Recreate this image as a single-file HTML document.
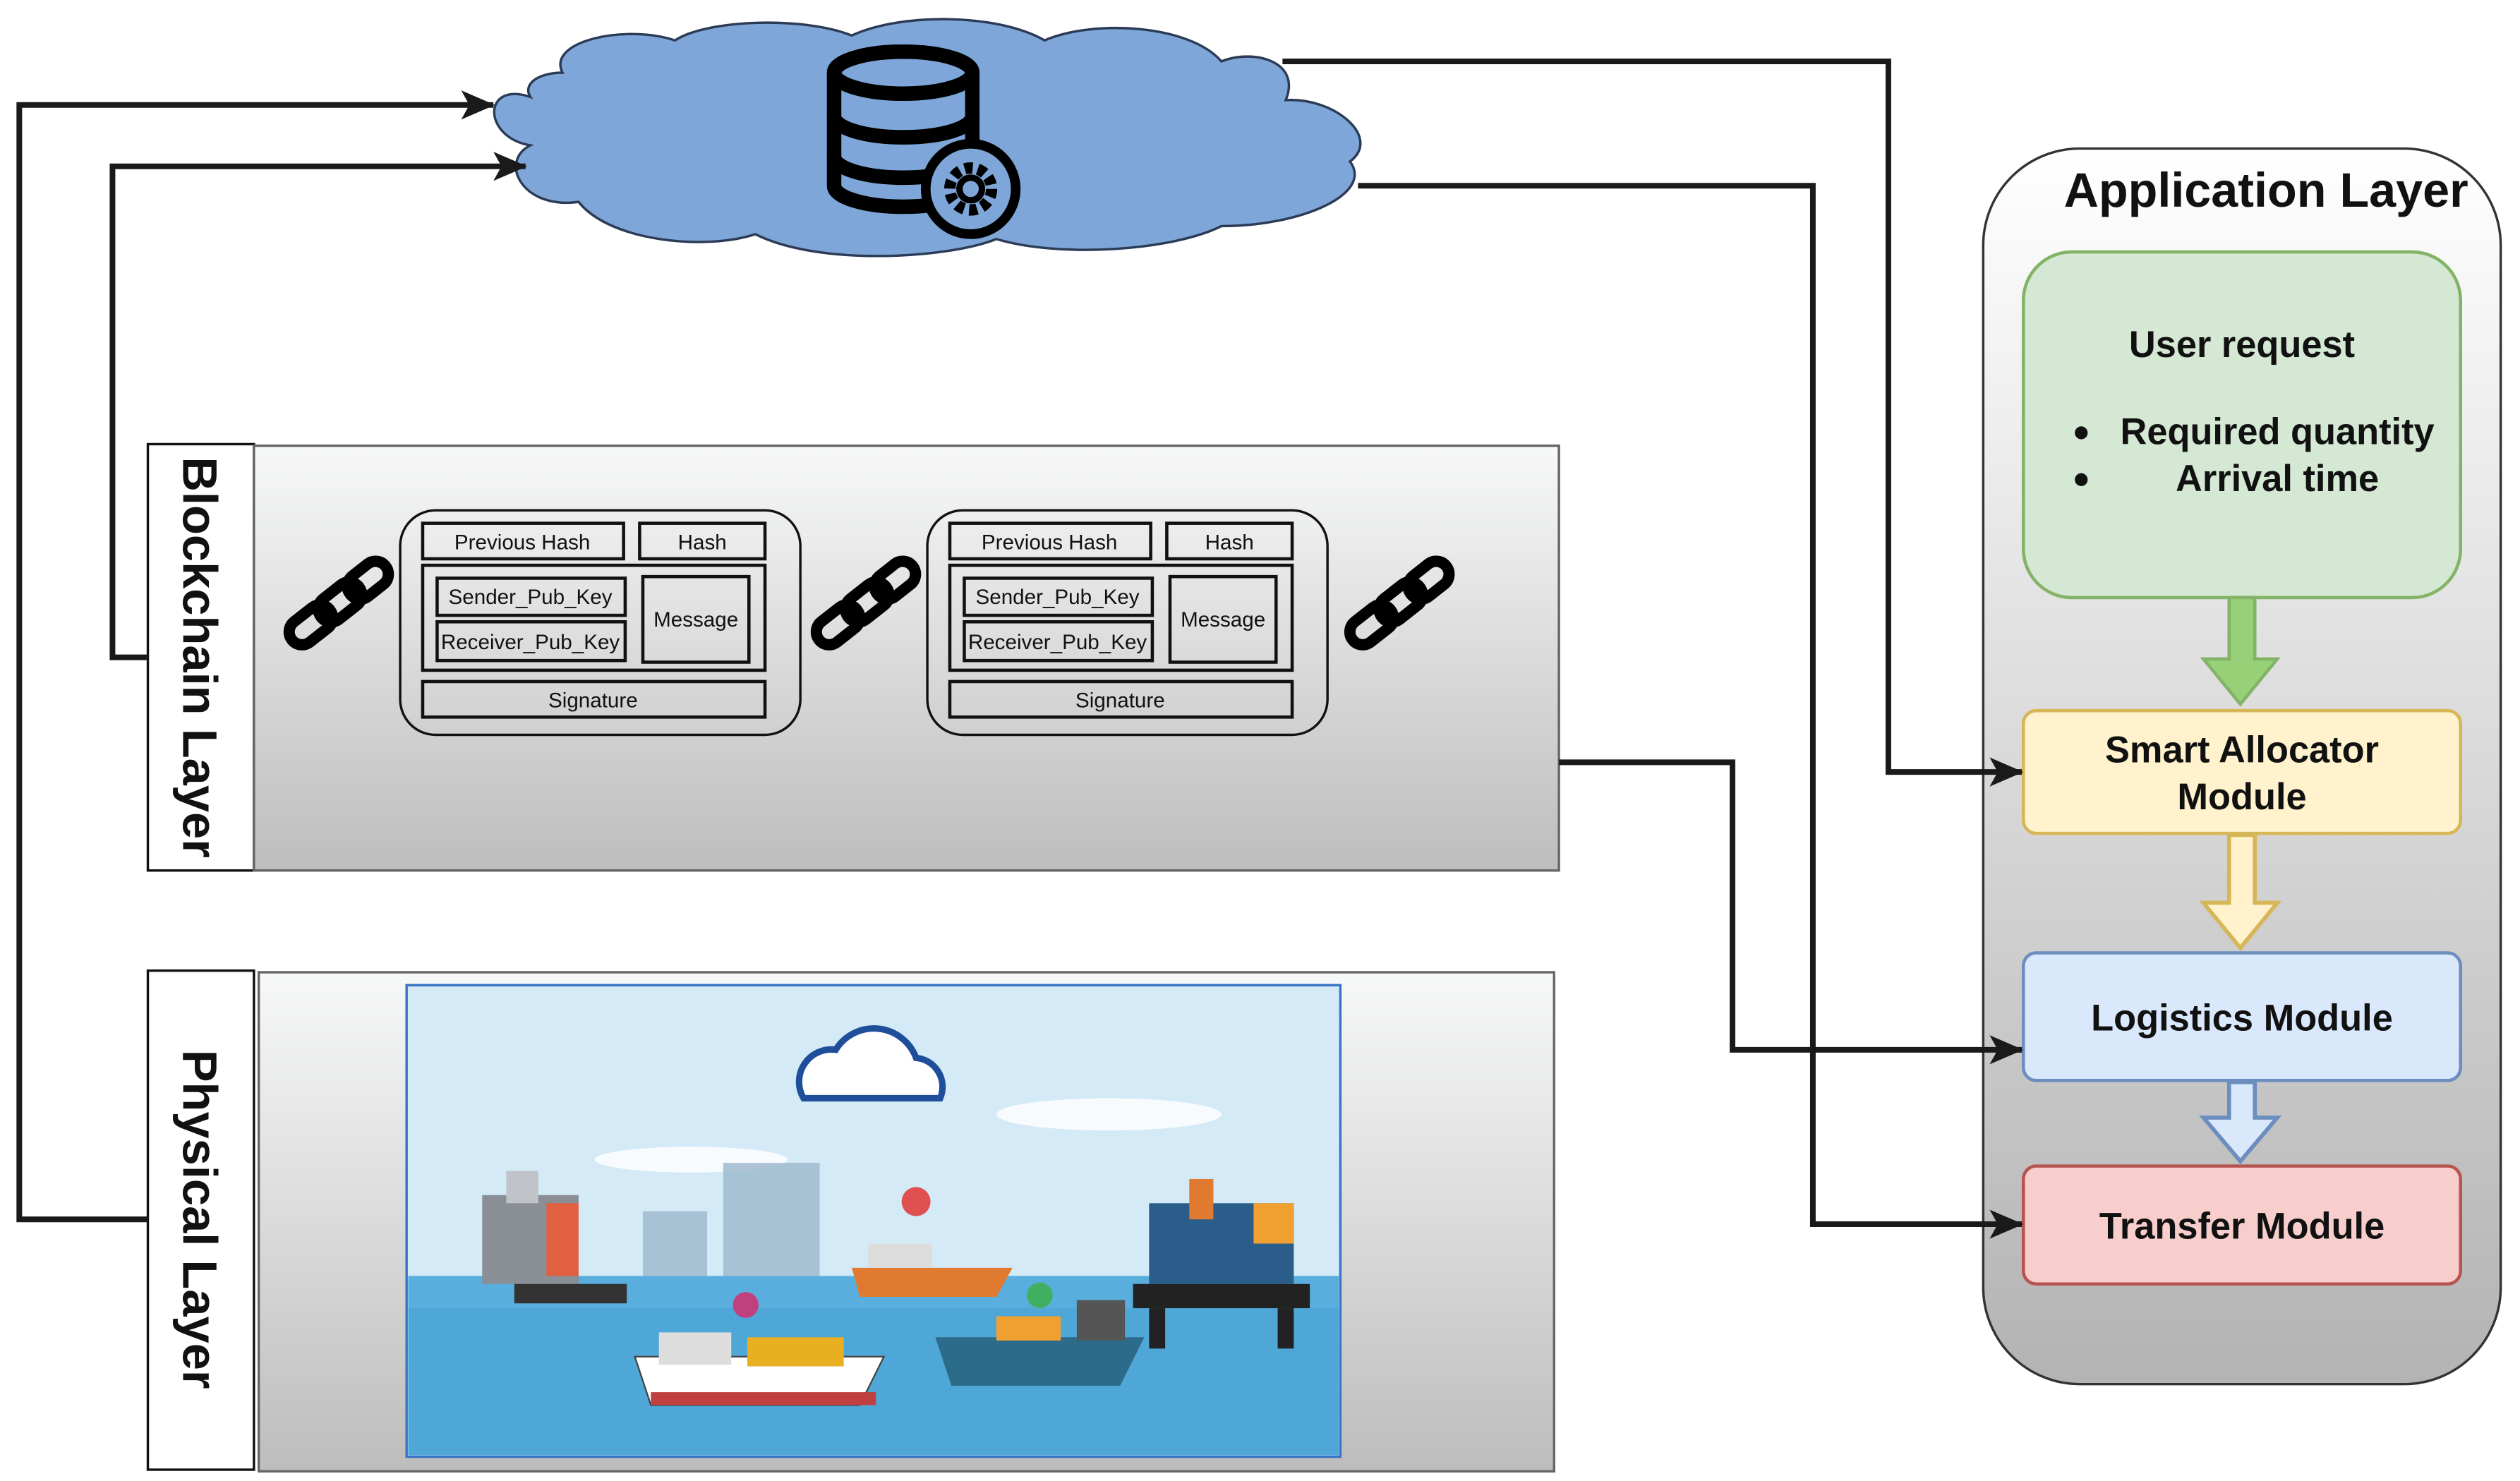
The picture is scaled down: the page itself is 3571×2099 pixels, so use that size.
<!DOCTYPE html>
<html><head><meta charset="utf-8"><style>html,body{margin:0;padding:0;background:#fff}svg{display:block}</style></head>
<body>
<svg width="3571" height="2099" viewBox="0 0 1568 917" preserveAspectRatio="none" xmlns="http://www.w3.org/2000/svg" font-family="Liberation Sans, sans-serif">
<defs>
<linearGradient id="g1" x1="0" y1="0" x2="0" y2="1"><stop offset="0" stop-color="#f7f8f8"/><stop offset="1" stop-color="#bdbdbd"/></linearGradient>
<linearGradient id="g2" x1="0" y1="0" x2="0" y2="1"><stop offset="0" stop-color="#ffffff"/><stop offset="1" stop-color="#b3b3b3"/></linearGradient>
<marker id="ah" markerWidth="22" markerHeight="20" refX="20" refY="10" orient="auto" markerUnits="userSpaceOnUse"><path d="M0,1 L21,10 L0,19 L5,10z" fill="#1a1a1a"/></marker>
<g id="chain"><g transform="rotate(-38)" fill="none" stroke="#000" stroke-width="7"><rect x="-36" y="-8" width="30" height="16" rx="8"/><rect x="-13" y="-8" width="30" height="16" rx="8"/><rect x="10" y="-8" width="28" height="16" rx="8"/></g></g>
<g id="block" font-size="13" text-anchor="middle" fill="none" stroke="#111">
<rect x="0" y="0" width="249" height="139" rx="22" stroke-width="1.5"/>
<rect x="14" y="8" width="125" height="22" stroke-width="2"/><rect x="149" y="8" width="78" height="22" stroke-width="2"/>
<rect x="14" y="34" width="213" height="65" stroke-width="2"/>
<rect x="23" y="42" width="117" height="23" stroke-width="2"/><rect x="23" y="69" width="117" height="24" stroke-width="2"/>
<rect x="151" y="41" width="66" height="53" stroke-width="2"/>
<rect x="14" y="106" width="213" height="22" stroke-width="2"/>
<g fill="#111" stroke="none"><text x="76" y="24">Previous Hash</text><text x="188" y="24">Hash</text><text x="81" y="58">Sender_Pub_Key</text><text x="81" y="86">Receiver_Pub_Key</text><text x="184" y="72">Message</text><text x="120" y="122">Signature</text></g>
</g>
</defs>

<!-- cloud -->
<g fill="#7ea6d8" stroke="#2b3a55" stroke-width="1.5">
<path d="M330,60 C300,50 300,85 330,90 C310,100 325,130 360,125 C380,150 440,155 470,145 C510,165 590,160 620,148 C660,160 730,155 760,140 C810,140 855,120 840,100 C860,85 830,60 800,62 C810,38 780,30 760,38 C740,15 680,12 650,25 C620,8 560,8 530,22 C500,10 440,12 420,25 C390,15 340,25 350,45 C335,45 325,52 330,60z"/>
</g>
<g fill="none" stroke="#000" stroke-width="9">
<path d="M519,45 v70 a43,13 0 0 0 86,0 v-70"/>
<ellipse cx="562" cy="45" rx="43" ry="13"/>
<path d="M519,72 a43,13 0 0 0 86,0 M519,97 a43,13 0 0 0 86,0"/>
</g>
<circle cx="604" cy="117" r="28" fill="#7ea6d8" stroke="#000" stroke-width="6"/>
<circle cx="604" cy="117" r="13" fill="none" stroke="#000" stroke-width="7" stroke-dasharray="5 3.2"/>
<circle cx="604" cy="117" r="7" fill="none" stroke="#000" stroke-width="4"/>

<!-- Blockchain layer -->
<rect x="92" y="275" width="66" height="264" fill="#fff" stroke="#111" stroke-width="1.5"/>
<rect x="158" y="276" width="812" height="263" fill="url(#g1)" stroke="#666" stroke-width="1.5"/>
<text transform="translate(114,407) rotate(90)" text-anchor="middle" font-size="30" font-weight="bold" fill="#111">Blockchain Layer</text>
<use href="#block" x="249" y="316"/>
<use href="#block" x="577" y="316"/>
<use href="#chain" x="210" y="374"/>
<use href="#chain" x="538" y="374"/>
<use href="#chain" x="870" y="374"/>

<!-- Physical layer -->
<rect x="92" y="601" width="66" height="309" fill="#fff" stroke="#111" stroke-width="1.5"/>
<rect x="161" y="602" width="806" height="309" fill="url(#g1)" stroke="#666" stroke-width="1.5"/>
<text transform="translate(114,755) rotate(90)" text-anchor="middle" font-size="30" font-weight="bold" fill="#111">Physical Layer</text>
<rect x="253" y="610" width="581" height="292" fill="#d4eaf7" stroke="#3a73c4" stroke-width="1.5"/>
<rect x="254" y="790" width="579" height="111" fill="#59aedd"/>
<rect x="254" y="810" width="579" height="91" fill="#4aa2d6" opacity="0.6"/>
<ellipse cx="430" cy="718" rx="60" ry="8" fill="#fff" opacity="0.8"/>
<ellipse cx="690" cy="690" rx="70" ry="10" fill="#fff" opacity="0.8"/>
<path d="M500,680 a20,20 0 0 1 20,-30 a28,28 0 0 1 50,5 a18,18 0 0 1 15,25z" fill="#fff" stroke="#1f4e9a" stroke-width="4"/>
<g fill="#9bb7cc" opacity="0.8"><rect x="400" y="750" width="40" height="40"/><rect x="450" y="720" width="60" height="70"/></g>
<g><rect x="300" y="740" width="60" height="55" fill="#8a8f96"/><rect x="315" y="725" width="20" height="20" fill="#c0c4c8"/><rect x="340" y="745" width="20" height="45" fill="#e06040"/><rect x="320" y="795" width="70" height="12" fill="#333"/></g>
<g><path d="M395,840 h155 l-15,30 h-130z" fill="#fff" stroke="#444"/><rect x="410" y="825" width="45" height="20" fill="#ddd"/><rect x="465" y="828" width="60" height="18" fill="#e8b020"/><rect x="405" y="862" width="140" height="8" fill="#c04040"/></g>
<g><path d="M530,785 h100 l-10,18 h-85z" fill="#e07a30"/><rect x="540" y="770" width="40" height="15" fill="#ddd"/></g>
<g><path d="M582,828 h130 l-15,30 h-105z" fill="#2d6b8a"/><rect x="620" y="815" width="40" height="15" fill="#f0a030"/><rect x="670" y="805" width="30" height="25" fill="#555"/></g>
<g><rect x="705" y="795" width="110" height="15" fill="#222"/><rect x="715" y="810" width="10" height="25" fill="#222"/><rect x="795" y="810" width="10" height="25" fill="#222"/><rect x="715" y="745" width="90" height="50" fill="#2a5d8a"/><rect x="740" y="730" width="15" height="25" fill="#e07a30"/><rect x="780" y="745" width="25" height="25" fill="#f0a030"/></g>
<g fill="#e05050"><circle cx="570" cy="744" r="9"/><circle cx="464" cy="808" r="8" fill="#c04080"/><circle cx="647" cy="802" r="8" fill="#40b060"/></g>

<!-- Application layer -->
<rect x="1234" y="92" width="322" height="765" rx="60" fill="url(#g2)" stroke="#333" stroke-width="1.5"/>
<text x="1410" y="128" text-anchor="middle" font-size="30" font-weight="bold" fill="#111">Application Layer</text>
<rect x="1259" y="156" width="272" height="214" rx="30" fill="#d5e8d4" stroke="#82b366" stroke-width="2"/>
<g font-size="23" font-weight="bold" fill="#111" text-anchor="middle">
<text x="1395" y="221">User request</text>
<text x="1417" y="275">Required quantity</text>
<text x="1417" y="304">Arrival time</text>
<circle cx="1295" cy="268" r="4"/><circle cx="1295" cy="297" r="4"/>
</g>
<path d="M1387,370 h16 v38 h14 l-23,28 l-23,-28 h16z" fill="#97d077" stroke="#82b366" stroke-width="2"/>
<rect x="1259" y="440" width="272" height="76" rx="8" fill="#fff2cc" stroke="#d6b656" stroke-width="2"/>
<text x="1395" y="472" text-anchor="middle" font-size="23" font-weight="bold" fill="#111">Smart Allocator</text>
<text x="1395" y="501" text-anchor="middle" font-size="23" font-weight="bold" fill="#111">Module</text>
<path d="M1387,517 h16 v42 h14 l-23,28 l-23,-28 h16z" fill="#fff2cc" stroke="#d6b656" stroke-width="2.5"/>
<rect x="1259" y="590" width="272" height="79" rx="8" fill="#dae8fc" stroke="#6c8ebf" stroke-width="2"/>
<text x="1395" y="638" text-anchor="middle" font-size="23" font-weight="bold" fill="#111">Logistics Module</text>
<path d="M1387,670 h16 v22 h14 l-23,27 l-23,-27 h16z" fill="#dae8fc" stroke="#6c8ebf" stroke-width="2.5"/>
<rect x="1259" y="722" width="272" height="73" rx="8" fill="#f8cecc" stroke="#b85450" stroke-width="2"/>
<text x="1395" y="767" text-anchor="middle" font-size="23" font-weight="bold" fill="#111">Transfer Module</text>

<!-- connectors (on top) -->
<g fill="none" stroke="#1a1a1a" stroke-width="3.5">
<polyline points="92,755 12,755 12,65 307,65" marker-end="url(#ah)"/>
<polyline points="92,407 70,407 70,103 327,103" marker-end="url(#ah)"/>
<polyline points="798,38 1175,38 1175,478 1258,478" marker-end="url(#ah)"/>
<polyline points="845,115 1128,115 1128,758 1258,758" marker-end="url(#ah)"/>
<polyline points="970,472 1078,472 1078,650 1258,650" marker-end="url(#ah)"/>
</g>
</svg>
</body></html>
